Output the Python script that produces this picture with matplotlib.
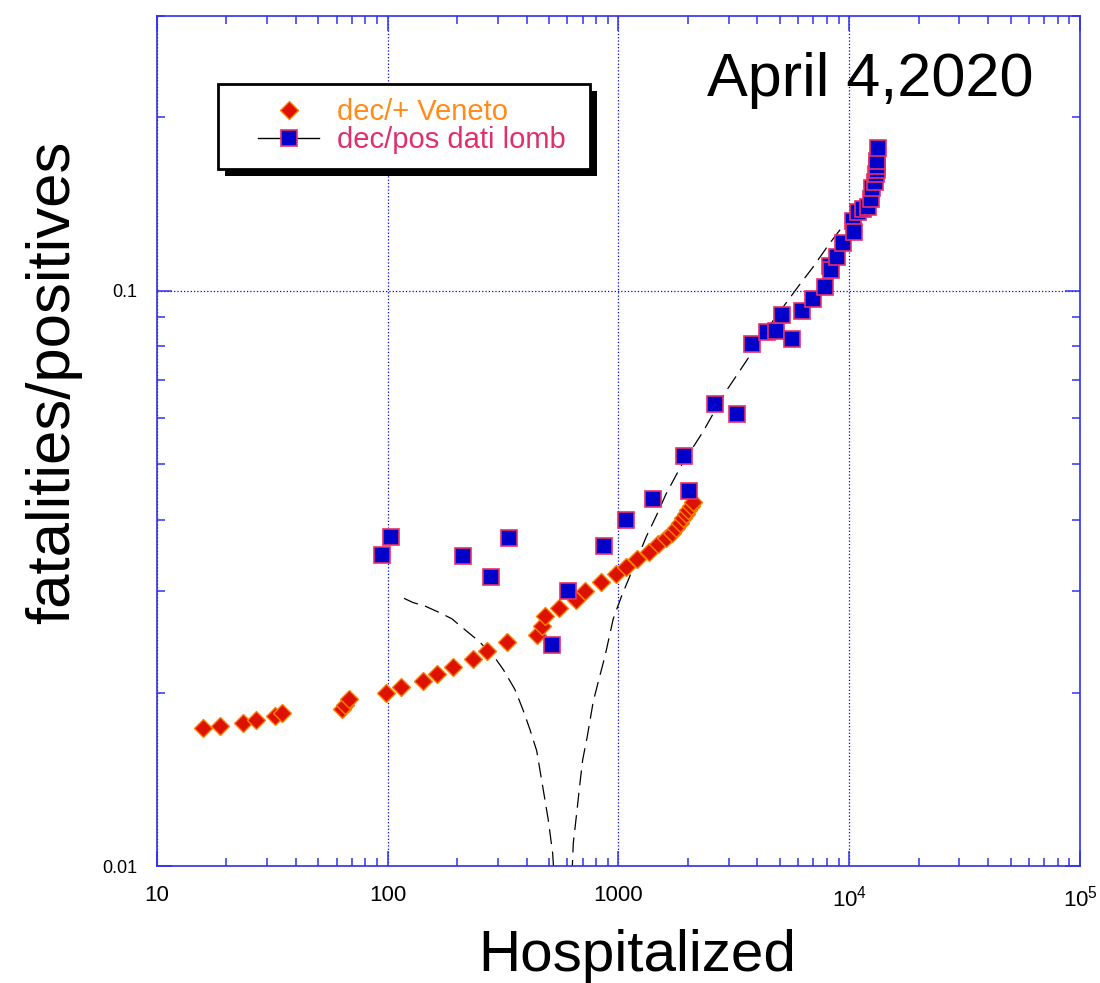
import matplotlib.pyplot as plt
from matplotlib.lines import Line2D
from matplotlib.patches import Rectangle
from matplotlib.ticker import FixedLocator, FixedFormatter, NullFormatter

plt.rcParams['font.family'] = ['Liberation Sans', 'DejaVu Sans']
plt.rcParams['mathtext.fontset'] = 'custom'
plt.rcParams['mathtext.rm'] = 'Liberation Sans'

# Veneto: hospitalized vs deceased/positives
veneto_hosp = [15.9, 18.8, 23.7, 26.9, 32.5, 34.9, 63.2, 65.3, 67.9, 98.3,
               114.7, 141.8, 163.9, 191.2, 234.9, 269.3, 327.7, 442.2, 464.8,
               480.4, 552.3, 654.3, 719.4, 837.4, 975.5, 1078, 1199, 1356,
               1488, 1607, 1701, 1775, 1848, 1910, 1962, 2007, 2056, 2097]
veneto_ratio = [0.01739, 0.01748, 0.01769, 0.01796, 0.01820, 0.01845, 0.01875,
                0.01908, 0.01952, 0.02000, 0.02043, 0.02098, 0.02152, 0.02219,
                0.02288, 0.02363, 0.02447, 0.02516, 0.02608, 0.02719, 0.02808,
                0.02896, 0.03006, 0.03115, 0.03218, 0.03315, 0.03414, 0.03511,
                0.03626, 0.03710, 0.03790, 0.03862, 0.03945, 0.04020, 0.04090,
                0.04161, 0.04227, 0.04285]

# Lombardia (dati lomb)
lomb_hosp = [94.7, 103.3, 211.3, 280.4, 335.3, 513.4, 605.9, 865.4, 1078,
             1415, 1922, 2021, 2612, 3252, 3788, 4401, 4838, 5098, 5631, 6221,
             6985, 7850, 8253, 8336, 8823, 9424, 10410, 10480, 10950, 11510,
             12090, 12430, 12490, 12870, 13060, 13190, 13230, 13230, 13280]
lomb_ratio = [0.03467, 0.03733, 0.03453, 0.03180, 0.03713, 0.02421, 0.03006,
              0.03601, 0.03990, 0.04343, 0.05166, 0.04488, 0.06344, 0.06093,
              0.08085, 0.08472, 0.08517, 0.09057, 0.08249, 0.09203, 0.09672,
              0.1015, 0.1105, 0.1085, 0.1145, 0.1212, 0.1319, 0.1266, 0.1371,
              0.1386, 0.1399, 0.1442, 0.1505, 0.1542, 0.1594, 0.1620, 0.1649,
              0.1680, 0.1768]

# trend curve for lomb, split where it drops below the axis
fit_low_hosp = [117.6, 129.0, 145.0, 165.6, 189.3, 212.6, 246.1, 286.7, 316.8,
                356.0, 384.4, 413.5, 442.2, 472.2, 496.3, 518.6, 525.4]
fit_low_ratio = [0.02919, 0.02869, 0.02830, 0.02763, 0.02691, 0.02588,
                 0.02466, 0.02322, 0.02195, 0.02026, 0.01875, 0.01726,
                 0.01586, 0.01356, 0.01203, 0.01052, 0.00965]
fit_high_hosp = [628.8, 637.0, 659.0, 680.9, 699.7, 732.6, 777.7, 825.7, 874.1,
                 949.5, 1032, 1121, 1325, 1464, 1607, 1878, 2317, 2894, 3362,
                 4659, 5919, 6985, 8114, 9585]
fit_high_ratio = [0.00965, 0.01095, 0.01235, 0.01393, 0.01530, 0.01680,
                  0.01933, 0.02123, 0.02315, 0.02691, 0.02946, 0.03192,
                  0.03748, 0.04073, 0.04430, 0.04977, 0.05672, 0.06643,
                  0.07263, 0.08843, 0.1008, 0.1100, 0.1199, 0.1309]

x_ticks = [10, 100, 1000, 1e4, 1e5]
x_ticklabels = ['10', '100', '1000', r'10$^4$', r'10$^5$']
y_ticks = [0.01, 0.1]
y_ticklabels = ['0.01', '0.1']

blue = '#3030f0'
ven_face, ven_edge = '#dd1100', '#ff8000'
lomb_face, lomb_edge = '#0000c8', '#e8306a'
ven_text, lomb_text = '#ff8c1a', '#e0306a'

fig = plt.figure(figsize=(11, 9.83), dpi=100)
ax = fig.add_axes([0.1427, 0.1190, 0.8391, 0.8647])
ax.set_xscale('log')
ax.set_yscale('log')

for hx, hy in [(fit_low_hosp, fit_low_ratio), (fit_high_hosp, fit_high_ratio)]:
    ln, = ax.plot(hx, hy, color='black', lw=0.9, zorder=2)
    ln.set_dashes((12, 6))

ax.plot(veneto_hosp, veneto_ratio, linestyle='none', marker='D',
        markersize=9.3, markerfacecolor=ven_face, markeredgecolor=ven_edge,
        markeredgewidth=1, zorder=3)
ax.plot(lomb_hosp, lomb_ratio, linestyle='none', marker='s',
        markersize=11.5, markerfacecolor=lomb_face, markeredgecolor=lomb_edge,
        markeredgewidth=1.2, zorder=4)

ax.set_xlim(10, 1e5)
ax.set_ylim(0.01, 0.3)

ax.xaxis.set_major_locator(FixedLocator(x_ticks))
ax.xaxis.set_major_formatter(FixedFormatter(x_ticklabels))
ax.xaxis.set_minor_formatter(NullFormatter())
ax.yaxis.set_major_locator(FixedLocator(y_ticks))
ax.yaxis.set_major_formatter(FixedFormatter(y_ticklabels))
ax.yaxis.set_minor_formatter(NullFormatter())

ax.tick_params(which='both', direction='in', top=True, right=True, color=blue)
ax.tick_params(which='major', length=11, width=1.1)
ax.tick_params(which='minor', length=6, width=1.1)
ax.tick_params(axis='x', which='major', labelsize=16, pad=14)
ax.tick_params(axis='y', which='major', labelsize=13, pad=14)
for s in ax.spines.values():
    s.set_color(blue)
    s.set_linewidth(1.2)

ax.grid(True, which='major', color='#0000ff', linestyle=':', linewidth=0.9)

# legend box with hard black shadow
ax.add_patch(Rectangle((0.0737, 0.8118), 0.403, 0.10, transform=ax.transAxes,
                       facecolor='black', edgecolor='none', zorder=5))
ax.add_patch(Rectangle((0.0661, 0.82), 0.403, 0.10, transform=ax.transAxes,
                       facecolor='white', edgecolor='black', linewidth=2,
                       zorder=5.5))
handles = [
    Line2D([], [], linestyle='none', marker='D', markersize=9.3,
           markerfacecolor=ven_face, markeredgecolor=ven_edge),
    Line2D([], [], color='black', lw=1, marker='s', markersize=11.5,
           markerfacecolor=lomb_face, markeredgecolor=lomb_edge,
           markeredgewidth=1.2),
]
leg = ax.legend(handles, ['dec/+ Veneto', 'dec/pos dati lomb'],
                loc='center left', bbox_to_anchor=(0.1094, 0.8705),
                frameon=False, fontsize=21, handlelength=2.1,
                handletextpad=0.6, labelspacing=0.02, borderpad=0,
                borderaxespad=0, labelcolor=[ven_text, lomb_text])
leg.set_zorder(6)

ax.text(0.7725, 0.9247, 'April 4,2020', transform=ax.transAxes,
        ha='center', va='center', fontsize=44, zorder=7)

fig.text(0.0485, 0.611, 'fatalities/positives', rotation=90,
         ha='center', va='center', fontsize=44.5)
fig.text(0.579, 0.027, 'Hospitalized', ha='center', va='center', fontsize=42)

fig.savefig('out.png', dpi=100)
